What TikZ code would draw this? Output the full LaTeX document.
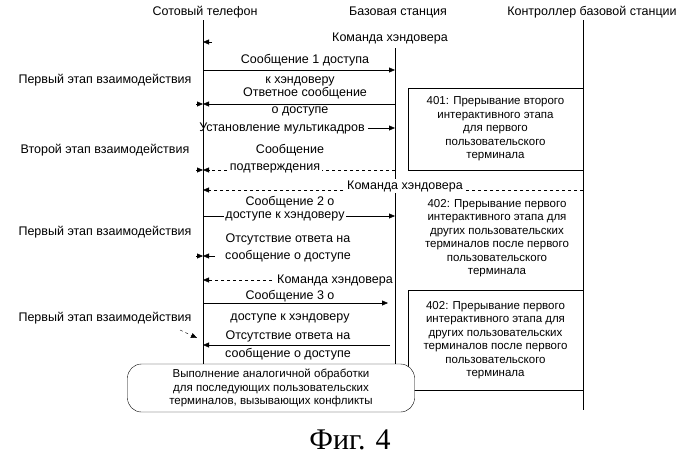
\documentclass[tikz,border=0pt]{standalone}
\usepackage{fontspec}
\setmainfont{Liberation Sans}
\newfontfamily\figfont{Liberation Serif}
\usetikzlibrary{arrows.meta}
\begin{document}
\begin{tikzpicture}[x=1pt,y=-1pt,
  font=\fontsize{12.5}{13.5}\selectfont,
  msg/.style={-{Triangle[length=6pt,width=5pt]}},
  dmsg/.style={msg,dashed},
  txt/.style={inner sep=0pt},
  ontxt/.style={fill=white,inner sep=1.5pt},
  note/.style={draw,fill=white,align=center,inner sep=3pt,font=\fontsize{11.5}{13.5}\selectfont}]
\useasboundingbox (0,0) rectangle (700,461);
% lifelines
\node[txt] (ph) at (205,12) {Сотовый телефон};
\node[txt] (bs) at (398,12) {Базовая станция};
\node[txt] (bsc) at (592,12) {Контроллер базовой станции};
\coordinate (p0) at (203,20); \coordinate (p1) at (203,410);
\coordinate (b0) at (395,48); \coordinate (b1) at (395,410);
\coordinate (c0) at (583,20); \coordinate (c1) at (583,410);
\draw (p0) -- (p1); \draw (b0) -- (b1); \draw (c0) -- (c1);

% handover command
\node[txt] (hc1) at (390,38) {Команда хэндовера};
\coordinate (h1a) at (212,42); \coordinate (h1b) at (203,42);
\draw[msg] (h1a) -- (h1b);

% first access
\node[txt] (m1a) at (305,60) {Сообщение 1 доступа};
\node[txt] (m1b) at (300,81) {к хэндоверу};
\draw[msg] (203,70) -- (395,70);
\node[txt] (st1) at (105,80) {Первый этап взаимодействия};
\node[txt] (r1a) at (305,93) {Ответное сообщение};
\draw[msg] (395,104) -- (203,104);
\draw[msg] (196,104) -- (203,104);
\node[txt] (r1b) at (300,111) {о доступе};
\node[txt] (mf) at (282,128) {Установление мультикадров};
\draw[msg] (mf.east) ++(3,0) -- (395,128);

% second stage
\node[txt] (st2) at (105,150) {Второй этап взаимодействия};
\node[txt] (cfa) at (290,150) {Сообщение};
\draw[dmsg] (395,170) -- (203,170);
\draw[msg] (196,170) -- (203,170);
\node[ontxt] (cfb) at (275,168) {подтверждения};
\draw[dmsg] (583,190) -- (203,190);
\node[ontxt] (hc2) at (405,186) {Команда хэндовера};

% second access
\node[txt] (m2a) at (290,202) {Сообщение 2 о};
\draw[msg] (203,216) -- (395,216);
\node[ontxt] (m2b) at (285,216) {доступе к хэндоверу};
\node[txt] (st3) at (105,232) {Первый этап взаимодействия};
\node[txt] (n2a) at (288,239) {Отсутствие ответа на};
\node[txt] (n2b) at (288,256) {сообщение о доступе};
\draw[msg] (215,256) -- (203,256);
\draw[msg] (196,256) -- (203,256);
\node[txt] (hc3) at (335,280) {Команда хэндовера};
\draw[dmsg] (hc3.west) ++(-5,0) -- (203,280);

% third access
\node[txt] (m3a) at (290,296) {Сообщение 3 о};
\node[txt] (m3b) at (290,318) {доступе к хэндоверу};
\draw[msg] (203,303) -- (388,303);
\node[txt] (st4) at (105,318) {Первый этап взаимодействия};
\node[txt] (n3a) at (288,336) {Отсутствие ответа на};
\node[txt] (n3b) at (288,354) {сообщение о доступе};
\draw[msg] (390,345) -- (203,345);
\draw[msg,dashed] (180,330) -- (197,338);

% notes
\node[note,minimum width=175pt,minimum height=82pt] (n401) at (495.5,129)
  {401: Прерывание второго\\интерактивного этапа\\для первого\\пользовательского\\терминала};
\node[align=center,inner sep=0pt,font=\fontsize{11.5}{13.5}\selectfont] (n402a) at (497,238)
  {402: Прерывание первого\\интерактивного этапа для\\других пользовательских\\терминалов после первого\\пользовательского\\терминала};
\node[note,minimum width=175pt,minimum height=100pt] (n402b) at (495.5,340)
  {402: Прерывание первого\\интерактивного этапа для\\других пользовательских\\терминалов после первого\\пользовательского\\терминала};
\node[draw,fill=white,rounded corners=14pt,align=center,minimum width=287pt,minimum height=48pt,
  font=\fontsize{11.5}{13.5}\selectfont] (rep) at (271,388)
  {Выполнение аналогичной обработки\\для последующих пользовательских\\терминалов, вызывающих конфликты};

\node[txt,font=\figfont\fontsize{30}{32}\selectfont] (fig) at (350,440) {Фиг. 4};
\end{tikzpicture}
\end{document}
